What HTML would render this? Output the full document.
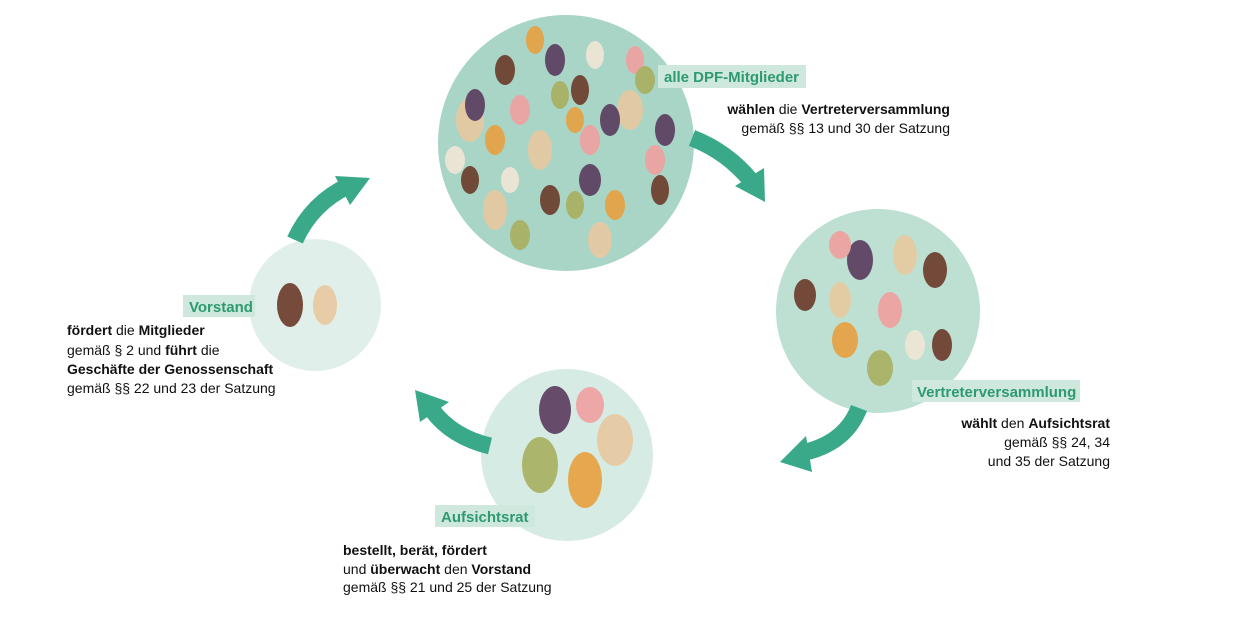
<!DOCTYPE html>
<html><head><meta charset="utf-8"><style>
html,body{margin:0;padding:0;background:#fff;}
svg{display:block}
text{font-family:"Liberation Sans",sans-serif;}
.t{font-size:14px;fill:#111}
.b{font-weight:bold}
.l{font-size:15px;font-weight:bold;fill:#2e9a70}
</style></head><body>
<svg width="1250" height="625" viewBox="0 0 1250 625" xmlns="http://www.w3.org/2000/svg">
<circle cx="566" cy="143" r="128" fill="#a9d5c6"/>
<circle cx="878" cy="311" r="102" fill="#bde0d3"/>
<circle cx="315" cy="305" r="66" fill="#e1efea"/>
<circle cx="567" cy="455" r="86" fill="#d6ebe3"/>
<g opacity="0.9">
<g fill="#e8c9a0"><ellipse cx="470" cy="120" rx="14" ry="22"/><ellipse cx="540" cy="150" rx="12" ry="20"/><ellipse cx="630" cy="110" rx="13" ry="20"/><ellipse cx="600" cy="240" rx="12" ry="18"/><ellipse cx="495" cy="210" rx="12" ry="20"/><ellipse cx="905" cy="255" rx="12" ry="20"/><ellipse cx="840" cy="300" rx="11" ry="18"/><ellipse cx="325" cy="305" rx="12" ry="20"/><ellipse cx="615" cy="440" rx="18" ry="26"/></g>
<g fill="#5a3a5e"><ellipse cx="475" cy="105" rx="10" ry="16"/><ellipse cx="555" cy="60" rx="10" ry="16"/><ellipse cx="610" cy="120" rx="10" ry="16"/><ellipse cx="590" cy="180" rx="11" ry="16"/><ellipse cx="665" cy="130" rx="10" ry="16"/><ellipse cx="860" cy="260" rx="13" ry="20"/><ellipse cx="555" cy="410" rx="16" ry="24"/></g>
<g fill="#6b3a2a"><ellipse cx="505" cy="70" rx="10" ry="15"/><ellipse cx="580" cy="90" rx="9" ry="15"/><ellipse cx="550" cy="200" rx="10" ry="15"/><ellipse cx="470" cy="180" rx="9" ry="14"/><ellipse cx="660" cy="190" rx="9" ry="15"/><ellipse cx="935" cy="270" rx="12" ry="18"/><ellipse cx="805" cy="295" rx="11" ry="16"/><ellipse cx="942" cy="345" rx="10" ry="16"/><ellipse cx="290" cy="305" rx="13" ry="22"/></g>
<g fill="#f0a0a0"><ellipse cx="520" cy="110" rx="10" ry="15"/><ellipse cx="590" cy="140" rx="10" ry="15"/><ellipse cx="635" cy="60" rx="9" ry="14"/><ellipse cx="655" cy="160" rx="10" ry="15"/><ellipse cx="890" cy="310" rx="12" ry="18"/><ellipse cx="840" cy="245" rx="11" ry="14"/><ellipse cx="590" cy="405" rx="14" ry="18"/></g>
<g fill="#e8a040"><ellipse cx="535" cy="40" rx="9" ry="14"/><ellipse cx="495" cy="140" rx="10" ry="15"/><ellipse cx="615" cy="205" rx="10" ry="15"/><ellipse cx="575" cy="120" rx="9" ry="13"/><ellipse cx="845" cy="340" rx="13" ry="18"/><ellipse cx="585" cy="480" rx="17" ry="28"/></g>
<g fill="#a8b060"><ellipse cx="560" cy="95" rx="9" ry="14"/><ellipse cx="520" cy="235" rx="10" ry="15"/><ellipse cx="575" cy="205" rx="9" ry="14"/><ellipse cx="645" cy="80" rx="10" ry="14"/><ellipse cx="880" cy="368" rx="13" ry="18"/><ellipse cx="540" cy="465" rx="18" ry="28"/></g>
<g fill="#f0e6d6"><ellipse cx="455" cy="160" rx="10" ry="14"/><ellipse cx="595" cy="55" rx="9" ry="14"/><ellipse cx="915" cy="345" rx="10" ry="15"/><ellipse cx="510" cy="180" rx="9" ry="13"/></g>
</g>
<g fill="#3aa98a">
<path d="M295,240 Q312,203 348,186" fill="none" stroke="#3aa98a" stroke-width="17"/>
<polygon points="335,176 370,178 350,205"/>
<path d="M692,138 Q728,152 752,182" fill="none" stroke="#3aa98a" stroke-width="17"/>
<polygon points="735,186 765,202 764,168"/>
<path d="M859,408 Q846,442 806,452" fill="none" stroke="#3aa98a" stroke-width="17"/>
<polygon points="780,462 806,436 812,472"/>
<path d="M490,446 Q452,437 432,410" fill="none" stroke="#3aa98a" stroke-width="17"/>
<polygon points="415,390 449,402 420,422"/>
</g>
<rect x="658" y="65" width="148" height="23" fill="#cfe8de"/>
<text class="l" x="664" y="82">alle DPF-Mitglieder</text>
<text class="t" x="950" y="114" text-anchor="end"><tspan class="b">wählen</tspan> die <tspan class="b">Vertreterversammlung</tspan></text>
<text class="t" x="950" y="133" text-anchor="end">gemäß §§ 13 und 30 der Satzung</text>
<rect x="912" y="380" width="168" height="22" fill="#cfe8de"/>
<text class="l" x="917" y="397">Vertreterversammlung</text>
<text class="t" x="1110" y="428" text-anchor="end"><tspan class="b">wählt</tspan> den <tspan class="b">Aufsichtsrat</tspan></text>
<text class="t" x="1110" y="447" text-anchor="end">gemäß §§ 24, 34</text>
<text class="t" x="1110" y="466" text-anchor="end">und 35 der Satzung</text>
<rect x="183" y="295" width="72" height="22" fill="#cfe8de"/>
<text class="l" x="189" y="312">Vorstand</text>
<text class="t" x="67" y="335"><tspan class="b">fördert</tspan> die <tspan class="b">Mitglieder</tspan></text>
<text class="t" x="67" y="355">gemäß § 2 und <tspan class="b">führt</tspan> die</text>
<text class="t" x="67" y="374" font-weight="bold">Geschäfte der Genossenschaft</text>
<text class="t" x="67" y="393">gemäß §§ 22 und 23 der Satzung</text>
<rect x="435" y="505" width="100" height="22" fill="#cfe8de"/>
<text class="l" x="441" y="522">Aufsichtsrat</text>
<text class="t b" x="343" y="555">bestellt, berät, fördert</text>
<text class="t" x="343" y="574">und <tspan class="b">überwacht</tspan> den <tspan class="b">Vorstand</tspan></text>
<text class="t" x="343" y="592">gemäß §§ 21 und 25 der Satzung</text>
</svg>
</body></html>
